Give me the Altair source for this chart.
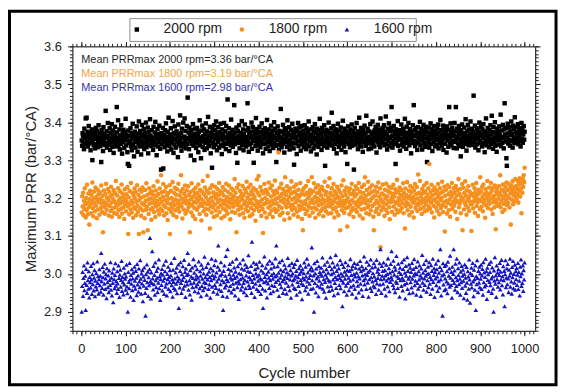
import altair as alt
import pandas as pd

FONT = "Liberation Sans"

SERIES = ["2000 rpm", "1800 rpm", "1600 rpm"]
COLORS = ["#000000", "#F5901E", "#1414C2"]
SHAPES = ["square", "circle", "triangle-up"]
SIZES = [20, 22, 32]

# Maximum PRR of each cycle (cycles 1..1000), in thousandths of bar/°CA above the series base
BASE_2000 = 3.0
Y2000 = [
352,338,371,364,345,329,383,357,341,410,366,412,349,375,336,361,390,344,358,372,
326,367,353,381,300,347,362,339,374,356,331,368,385,342,359,377,334,351,392,363,
348,370,337,355,295,379,343,366,324,387,352,369,340,361,430,345,376,333,358,398,
364,341,350,384,327,372,357,346,395,335,362,378,319,353,367,388,344,360,336,440,
373,349,405,338,356,381,328,365,343,392,354,317,369,347,380,361,332,374,352,409,
339,366,357,321,290,378,345,285,363,350,384,337,371,326,358,396,342,367,310,354,
375,333,361,348,389,356,322,370,344,402,359,336,377,351,315,368,393,340,363,347,
382,329,358,371,345,399,334,362,350,386,318,374,356,341,408,365,337,353,379,346,
360,327,388,352,339,373,401,344,366,313,357,382,336,369,348,391,355,330,364,275,
371,342,358,385,278,350,367,334,379,356,397,340,362,323,375,347,412,359,337,368,
351,384,328,363,346,403,357,319,372,341,389,355,333,368,376,349,361,308,394,343,
365,352,418,337,371,325,383,358,345,399,336,362,410,348,377,331,355,390,342,465,
359,373,329,386,351,364,312,379,343,368,354,395,338,361,300,383,347,370,332,357,
385,344,366,321,374,352,405,339,360,305,378,349,391,335,363,356,381,327,369,346,
397,353,331,376,358,414,342,365,337,388,351,318,372,360,280,383,345,367,334,392,
356,379,341,402,363,326,370,348,387,355,333,374,359,396,340,364,316,381,352,369,
337,398,361,344,376,329,390,357,343,460,366,350,384,324,371,358,339,407,362,347,
380,335,368,354,445,342,373,360,319,386,351,293,377,345,364,392,331,359,372,348,
366,403,339,357,381,326,369,352,394,343,361,336,378,355,450,349,385,322,367,341,
374,358,345,399,330,363,387,350,293,376,354,368,337,411,359,346,382,325,371,356,
340,388,362,334,375,351,397,344,368,318,379,357,343,384,365,330,373,352,406,347,
363,336,381,358,324,370,349,391,341,367,355,378,332,364,400,346,383,359,338,295,
372,353,389,340,366,327,377,357,345,435,361,334,375,350,393,343,368,320,384,356,
348,379,363,335,405,352,371,342,387,328,366,354,380,339,362,396,345,374,331,288,
369,357,383,344,360,316,376,351,398,337,365,386,349,373,325,358,390,342,367,353,
378,334,361,392,346,370,329,384,355,341,375,359,402,336,364,350,381,323,368,357,
344,387,362,331,376,352,395,339,371,358,315,383,347,366,335,379,354,409,343,370,
356,327,385,361,348,374,337,392,353,285,368,345,380,359,333,376,350,399,340,365,
372,346,358,384,425,339,367,353,390,330,375,356,343,381,362,318,371,349,396,357,
335,378,364,342,386,351,327,373,358,404,345,369,336,383,355,321,376,361,347,290,
366,389,343,372,356,334,381,360,348,394,338,367,352,377,275,363,385,341,370,354,
398,345,364,329,376,357,412,340,368,351,385,336,373,359,322,380,347,366,391,352,
371,338,417,360,346,383,355,329,376,362,344,395,357,331,369,350,402,342,374,361,
336,379,353,388,365,320,372,349,393,358,341,381,368,334,410,355,377,346,363,385,
349,366,392,339,374,356,415,343,370,328,383,361,352,397,337,376,359,345,386,440,
364,333,377,351,390,342,368,357,290,381,346,373,362,403,338,366,354,379,325,371,
357,394,341,369,350,383,336,375,361,409,345,367,330,388,356,372,347,398,363,339,
382,353,370,318,376,359,345,392,366,445,351,379,337,364,385,348,373,327,360,387,
344,371,356,401,339,367,382,352,328,375,361,393,346,369,335,380,357,388,341,295,
374,362,349,386,333,370,355,397,343,366,381,324,372,359,390,347,364,336,378,353,
368,340,385,357,394,331,373,350,362,406,345,379,338,366,354,391,327,371,358,384,
343,376,362,320,389,352,367,335,380,440,358,346,397,370,339,363,385,351,374,332,
365,398,348,377,440,356,331,383,361,344,372,390,337,368,355,310,379,346,394,360,
335,371,352,386,343,367,408,358,325,376,349,393,363,339,381,354,370,402,345,366,
383,357,340,375,470,362,348,391,333,369,355,384,342,377,360,326,373,399,351,364,
346,388,370,336,381,358,395,344,367,321,376,353,410,339,372,361,385,349,365,334,
379,356,392,343,368,417,351,374,330,387,360,347,400,338,371,357,322,383,364,352,
375,341,389,366,355,420,337,378,362,346,393,359,331,381,450,368,349,385,305,285,
360,396,344,372,353,387,338,376,366,402,350,369,333,391,361,382,345,413,356,374,
388,348,370,359,395,342,377,363,351,384,336,373,398,357,380,346,368,390,354,375,
]

BASE_1800 = 3.0
Y1800 = [
162,205,178,214,155,193,171,226,184,149,200,168,235,188,157,212,176,130,197,219,
183,160,208,191,241,173,152,199,217,186,165,228,180,203,147,194,222,170,210,189,
156,215,198,174,233,185,163,206,110,192,220,177,159,211,187,238,169,201,182,224,
195,154,216,179,204,166,230,188,151,209,173,197,221,161,190,213,176,245,185,158,
207,181,226,168,194,150,218,186,200,172,236,159,212,191,175,203,145,223,184,196,
165,210,189,229,178,105,202,157,219,183,170,240,193,162,214,187,148,206,176,225,
199,171,216,155,190,234,180,164,208,105,195,222,173,201,153,217,186,228,167,110,
204,182,147,221,192,169,239,177,208,115,196,158,226,185,213,170,199,143,218,188,
174,209,231,163,197,185,150,220,178,206,192,244,167,211,183,157,225,198,172,260,
190,215,166,203,237,181,154,218,194,176,229,160,207,187,142,213,198,171,234,105,
184,219,163,200,175,242,190,155,214,181,227,168,196,209,150,223,186,174,238,193,
164,207,182,217,260,178,199,146,224,189,170,212,195,233,159,204,186,220,167,192,
231,176,208,185,110,216,197,162,239,181,203,153,221,190,174,211,145,227,188,200,
169,214,193,236,177,206,158,222,185,198,141,217,179,245,192,165,210,187,228,172,
203,156,219,184,258,195,170,213,188,120,226,179,201,162,234,191,176,215,150,206,
183,230,167,199,211,154,224,189,175,208,240,163,196,218,181,147,213,193,229,172,
207,185,152,221,194,168,238,180,202,159,216,189,233,175,197,144,210,186,225,164,
198,221,177,205,188,250,161,214,193,110,227,182,200,169,236,190,156,219,178,204,
173,212,196,232,160,207,184,148,223,191,170,215,243,179,201,165,228,187,209,152,
195,235,174,218,186,157,210,199,226,168,203,181,140,221,192,249,176,214,185,258,
166,207,190,229,178,153,219,196,171,108,213,184,237,162,200,222,187,149,216,194,
211,175,241,189,158,226,180,204,167,233,193,150,218,185,209,172,246,197,163,220,
186,214,168,201,320,179,227,155,205,192,238,174,211,161,224,189,198,143,217,255,
183,208,176,231,194,160,219,187,203,147,225,178,212,244,169,196,182,215,156,230,
201,173,217,189,236,164,208,195,151,222,180,204,169,240,191,210,177,145,219,115,
185,226,171,209,192,158,232,183,214,167,199,245,178,206,153,221,188,212,174,255,
196,162,218,187,239,175,203,148,227,190,170,213,199,234,181,157,215,193,223,166,
207,184,229,172,197,152,220,188,243,176,209,165,216,194,180,231,159,202,186,252,
178,213,195,160,226,184,207,171,237,190,149,218,199,175,211,164,230,187,203,155,
222,180,196,115,214,188,233,168,205,179,247,192,161,219,186,209,173,228,194,125,
201,176,217,190,157,225,183,210,166,238,195,174,212,150,220,188,204,169,231,182,
210,163,224,191,177,240,196,154,216,185,203,170,229,189,146,213,198,235,172,255,
187,206,160,221,194,176,243,181,211,157,227,192,168,215,199,234,179,202,151,115,
219,185,207,164,230,193,172,216,188,241,158,204,180,226,70,197,167,212,190,236,
175,209,186,153,222,198,169,238,183,205,161,218,192,230,176,144,214,189,227,200,
164,211,193,235,178,204,156,223,187,214,170,248,191,162,217,200,182,228,166,209,
194,221,173,206,186,239,160,213,198,120,225,179,208,189,242,168,201,184,219,155,
205,232,177,196,215,163,227,188,202,149,220,195,237,174,210,184,229,166,199,262,
182,214,191,245,171,206,187,158,224,197,213,176,233,190,165,218,200,183,240,168,
209,193,226,178,290,201,172,216,188,235,162,207,194,221,180,149,228,197,212,175,
190,219,166,203,237,184,211,157,226,195,174,214,200,243,181,163,218,189,230,112,
206,177,222,193,159,234,187,210,168,229,196,151,216,183,204,240,172,212,190,226,
180,215,198,164,232,189,207,145,221,192,250,176,211,186,224,160,203,195,237,115,
199,227,170,213,188,244,182,206,156,220,194,175,231,200,166,217,190,209,184,113,
211,186,235,173,204,192,226,161,215,198,240,179,208,189,153,222,196,213,171,255,
192,218,177,229,203,165,236,187,210,196,148,223,182,214,200,245,174,207,191,228,
185,212,197,240,170,219,201,158,227,189,206,176,233,195,118,216,187,224,180,209,
198,231,184,214,260,176,207,192,222,163,236,200,185,218,169,211,229,194,241,182,
205,221,187,238,200,175,226,212,130,233,196,219,244,184,208,227,191,215,250,203,
232,197,224,211,245,188,236,219,252,204,241,225,160,238,214,250,229,260,242,280,
]

BASE_1600 = 2.8
Y1600 = [
100,168,205,142,189,222,157,176,195,105,213,171,150,230,183,161,207,138,192,178,
164,221,185,147,199,173,228,156,190,210,141,182,167,202,159,233,176,194,148,186,
212,170,195,153,255,181,163,218,191,145,206,174,227,160,188,199,136,215,178,165,
196,152,209,184,171,231,158,190,143,203,176,125,214,186,162,197,228,169,181,150,
207,175,160,222,189,139,198,211,166,184,234,155,192,178,146,216,172,201,187,158,
193,224,167,149,100,205,179,162,229,185,140,197,174,212,157,188,203,131,169,219,
182,161,208,190,144,226,172,196,153,214,180,165,236,187,148,201,175,210,128,193,
169,217,184,150,90,199,163,225,178,206,142,191,170,212,295,181,135,204,176,260,
188,159,221,173,197,145,230,183,165,208,190,152,216,177,238,162,194,131,186,202,
171,213,156,198,182,224,147,189,207,166,235,175,143,200,186,219,160,192,178,210,
154,196,229,170,185,140,211,179,163,242,188,158,204,174,216,149,193,181,225,110,
187,164,208,231,176,150,199,184,220,161,191,237,169,205,139,214,181,197,172,255,
200,158,226,183,146,210,175,193,132,217,165,189,239,177,203,154,222,186,167,196,
212,173,190,151,233,180,162,207,195,141,224,168,187,214,157,201,178,245,164,191,
176,218,145,199,185,228,160,206,172,192,137,215,183,240,166,197,209,153,188,223,
171,194,236,163,204,180,148,219,275,187,159,211,196,173,231,155,200,183,142,105,
208,178,222,164,195,247,170,186,140,265,181,213,157,199,226,168,190,209,151,185,
232,174,198,160,217,189,143,206,177,240,193,165,220,181,134,202,175,228,186,158,
199,214,167,190,238,176,152,211,184,225,162,196,144,218,180,207,249,170,192,163,
205,186,221,150,285,179,197,166,230,188,139,212,174,201,226,160,193,217,182,155,
198,232,171,188,147,209,185,223,161,110,203,178,246,192,156,216,181,199,138,227,
175,206,190,163,235,183,149,214,197,170,228,187,154,202,219,168,193,241,179,275,
196,158,220,184,203,142,231,174,190,211,165,198,236,181,150,207,186,224,160,193,
214,177,148,204,189,242,168,199,223,157,185,210,137,196,229,172,201,183,218,163,
187,226,160,195,208,145,237,179,191,168,215,200,153,222,184,206,175,133,212,190,
171,202,230,185,157,219,193,166,240,180,204,148,225,189,174,211,197,160,217,270,
183,209,162,196,100,228,176,201,151,214,188,234,169,193,141,220,182,205,165,199,
216,174,195,243,161,207,186,153,224,179,198,137,212,190,232,167,203,184,155,221,
180,244,168,199,212,158,230,185,203,144,219,176,192,250,163,208,186,225,149,197,
214,171,189,236,162,201,183,226,115,195,177,218,154,206,187,231,169,198,145,210,
176,223,190,157,208,182,239,166,197,212,148,221,185,170,200,229,160,193,216,138,
203,181,226,169,194,151,214,188,234,174,207,159,220,196,142,211,183,246,172,199,
188,215,160,232,197,177,205,140,224,186,209,163,238,191,155,217,180,202,169,228,
193,165,219,184,147,237,175,206,189,213,158,199,228,172,265,186,150,221,195,208,
174,230,187,161,210,196,143,224,182,200,167,241,188,215,154,203,179,226,192,260,
185,207,171,235,162,198,219,152,211,180,247,176,194,163,227,189,205,140,216,183,
200,168,231,190,156,213,184,238,172,203,135,221,195,176,244,160,208,187,225,149,
193,216,178,205,164,229,187,151,213,196,239,170,202,182,218,145,199,176,233,161,
207,185,222,168,196,142,214,190,250,177,203,158,226,188,171,210,195,236,153,200,
183,219,165,201,231,174,192,147,223,186,208,161,240,179,197,215,139,205,188,227,
170,212,193,155,236,181,203,164,218,265,185,143,210,196,90,228,172,199,157,221,
188,160,224,180,207,149,232,175,195,214,166,248,190,171,205,137,219,184,200,265,
176,209,158,227,191,168,240,183,152,215,197,173,230,187,145,206,178,221,163,195,
211,182,136,200,225,169,190,150,218,177,132,207,193,161,238,185,124,202,174,216,
164,197,229,180,141,211,186,158,222,105,194,173,236,189,152,208,177,219,165,201,
187,224,160,196,213,145,231,178,204,167,192,240,171,207,134,216,184,199,155,226,
179,205,170,232,188,150,217,193,161,100,209,182,244,174,196,139,222,186,203,166,
212,178,197,229,159,206,185,237,170,194,146,220,183,208,115,199,236,165,190,214,
173,226,188,152,211,195,240,166,203,180,148,218,191,234,162,200,177,224,158,207,
186,215,171,198,229,160,205,182,143,219,194,238,168,201,176,222,155,210,185,230,
]

NOTES = [
    "Mean PRRmax 2000 rpm=3.36 bar/\u00b0CA",
    "Mean PRRmax 1800 rpm=3.19 bar/\u00b0CA",
    "Mean PRRmax 1600 rpm=2.98 bar/\u00b0CA",
]
NOTE_COLORS = ["#1e1e1e", "#F2A444", "#3434A8"]
NOTE_X = [0, 0, 0]
NOTE_Y = [3.563, 3.528, 3.491]

X_TITLE = "Cycle number"
Y_TITLE = "Maximum PRR (bar/\u00b0CA)"
X_TICKS = list(range(0, 1001, 100))
X_MINOR = list(range(-20, 1021, 10))
Y_TICKS = [2.9, 3.0, 3.1, 3.2, 3.3, 3.4, 3.5, 3.6]
Y_MINOR = [round(2.85 + k * 0.01, 2) for k in range(76)]
X_DOMAIN = [-20, 1024]
Y_DOMAIN = [2.85, 3.6]

rows = []
for name, base, vals in zip(SERIES, [BASE_2000, BASE_1800, BASE_1600], [Y2000, Y1800, Y1600]):
    for i, v in enumerate(vals):
        rows.append({"cycle": i + 1, "prr": round(base + v / 1000.0, 3), "series": name})
df = pd.DataFrame(rows)

xs = alt.Scale(domain=X_DOMAIN, nice=False, zero=False)
ys = alt.Scale(domain=Y_DOMAIN, nice=False, zero=False)

TICK_COLOR = "#222222"


def plain_axis(orient, values, size):
    return alt.Axis(orient=orient, values=values, tickSize=size, labels=False, title="",
                    grid=False, domain=False, ticks=True, tickColor=TICK_COLOR, tickWidth=1)


AX_BOTTOM = alt.Axis(orient="bottom", values=X_TICKS, tickSize=5, tickColor=TICK_COLOR, tickWidth=1,
                     grid=False, domain=False, format="d", labelFont=FONT, labelFontSize=13,
                     labelColor="#222222", labelPadding=7, labelOverlap=False, labelFlush=False,
                     title=X_TITLE, titleFont=FONT, titleFontSize=15, titleFontWeight="normal",
                     titleColor="#222222", titlePadding=10)
AY_LEFT = alt.Axis(orient="left", values=Y_TICKS, tickSize=5, tickColor=TICK_COLOR, tickWidth=1,
                   grid=False, domain=False, format=".1f", labelFont=FONT, labelFontSize=13,
                   labelColor="#222222", labelPadding=6, labelOverlap=False, labelFlush=False,
                   title=Y_TITLE, titleFont=FONT, titleFontSize=15, titleFontWeight="normal",
                   titleColor="#222222", titlePadding=5)

LEG = alt.Legend(orient="none", legendX=58, legendY=-24, direction="horizontal", title=None,
                 labelFont=FONT, labelFontSize=14, labelColor="#222222", symbolSize=16,
                 labelOffset=20, columnPadding=12, padding=0, symbolStrokeWidth=0)

points = alt.Chart(df).mark_point(filled=True, opacity=1, strokeWidth=0).encode(
    x=alt.X("cycle:Q", scale=xs, axis=AX_BOTTOM),
    y=alt.Y("prr:Q", scale=ys, axis=AY_LEFT),
    color=alt.Color("series:N", scale=alt.Scale(domain=SERIES, range=COLORS), legend=LEG),
    shape=alt.Shape("series:N", scale=alt.Scale(domain=SERIES, range=SHAPES), legend=LEG),
    size=alt.Size("series:O", scale=alt.Scale(domain=SERIES, range=SIZES), legend=None),
)

dummy = alt.Data(values=[{"cycle": 0, "prr": 3.0}])


def axis_layer(ax_x, ax_y):
    return alt.Chart(dummy).mark_point(opacity=0).encode(
        x=alt.X("cycle:Q", scale=xs, axis=ax_x),
        y=alt.Y("prr:Q", scale=ys, axis=ax_y),
    )


axes_layers = [
    axis_layer(plain_axis("bottom", X_MINOR, 3), plain_axis("left", Y_MINOR, 3)),
    axis_layer(plain_axis("top", X_TICKS, 5), plain_axis("right", Y_TICKS, 5)),
    axis_layer(plain_axis("top", X_MINOR, 3), plain_axis("right", Y_MINOR, 3)),
]

note_layers = []
for t, c, xv, yv in zip(NOTES, NOTE_COLORS, NOTE_X, NOTE_Y):
    note_layers.append(
        alt.Chart(alt.Data(values=[{"cycle": xv, "prr": yv, "label": t}]))
        .mark_text(align="left", baseline="middle", font=FONT, fontSize=11, color=c)
        .encode(x=alt.X("cycle:Q", scale=xs, axis=None),
                y=alt.Y("prr:Q", scale=ys, axis=None),
                text="label:N")
    )

one = alt.Data(values=[{"k": 1}])
legend_box = alt.Chart(one).mark_rect(fill="white", stroke="#8f8f8f", strokeWidth=1).encode(
    x=alt.value(58), x2=alt.value(347), y=alt.value(-28), y2=alt.value(-5))
frame = alt.Chart(one).mark_rect(fillOpacity=0, stroke="#000000", strokeWidth=3).encode(
    x=alt.value(-63.5), x2=alt.value(488), y=alt.value(-35.5), y2=alt.value(341.5))

chart = alt.layer(frame, legend_box, points, *note_layers, *axes_layers).resolve_axis(
    x="independent", y="independent"
).properties(
    width=467, height=287,
    padding={"left": 65, "top": 37, "right": 24, "bottom": 56},
    autosize=alt.AutoSizeParams(type="none"),
    background="white",
).configure_view(stroke="#000000", strokeWidth=1)

chart.save("out.html", embed_options={"renderer": "svg", "actions": False})
